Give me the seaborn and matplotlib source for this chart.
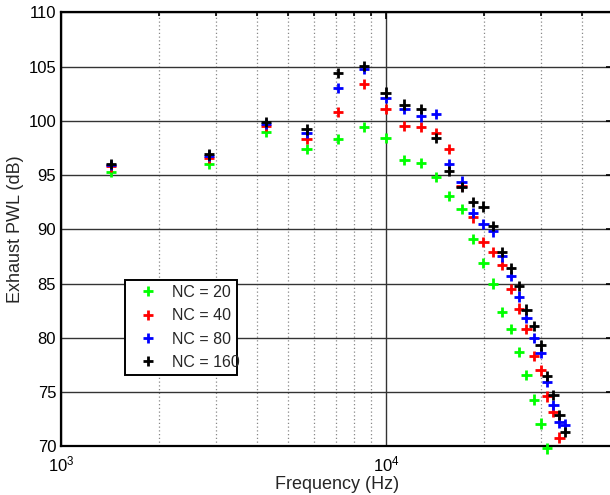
import numpy as np
import pandas as pd
import matplotlib
matplotlib.use("Agg")
import matplotlib.pyplot as plt
from matplotlib.patches import Rectangle
from matplotlib.ticker import LogLocator, NullFormatter, LogFormatterMathtext
import seaborn as sns

# Harmonic frequencies (Hz)
freq = [1425, 2850, 4275, 5700, 7125, 8550, 9975, 11400, 12825, 14250,
        15675, 17100, 18525, 19950, 21375, 22800, 24225, 25650, 27075,
        28500, 29925, 31350, 32775, 34200, 35625]

# Exhaust sound power level (dB) for each grid resolution
pwl_nc20 = [95.3, 96.0, 99.0, 97.4, 98.3, 99.4, 98.4, 96.4, 96.1, 94.8,
            93.1, 91.9, 89.1, 86.9, 85.0, 82.4, 80.8, 78.7, 76.6, 74.3,
            72.1, 69.8, np.nan, np.nan, np.nan]
pwl_nc40 = [95.8, 96.6, 99.5, 98.3, 100.8, 103.4, 101.1, 99.5, 99.4, 98.9,
            97.4, 94.0, 91.1, 88.8, 87.9, 86.7, 84.5, 82.7, 80.8, 78.3,
            77.0, 74.6, 73.2, 70.8, np.nan]
pwl_nc80 = [95.9, 96.8, 99.7, 98.85, 103.0, 104.8, 102.1, 101.1, 100.4, 100.6,
            96.0, 94.4, 91.5, 90.5, 89.8, 87.5, 85.7, 83.8, 81.8, 80.0,
            78.6, 75.95, 73.8, 72.2, 72.0]
pwl_nc160 = [96.0, 96.9, 99.9, 99.2, 104.4, 105.05, 102.6, 101.5, 101.1, 98.4,
             95.4, 93.9, 92.5, 92.1, 90.3, 87.9, 86.4, 84.8, 82.6, 81.1,
             79.3, 76.5, 74.7, 72.9, 71.3]

series_labels = ["NC = 20", "NC = 40", "NC = 80", "NC = 160"]
series_colors = ["#00ff00", "#ff0000", "#0000ff", "#000000"]
yticks = [70, 75, 80, 85, 90, 95, 100, 105, 110]

frames = []
for lab, vals in zip(series_labels, [pwl_nc20, pwl_nc40, pwl_nc80, pwl_nc160]):
    frames.append(pd.DataFrame({"freq": freq, "pwl": vals, "series": lab}))
df = pd.concat(frames, ignore_index=True).dropna()

sns.set_style("white")
plt.rcParams["font.family"] = ["Liberation Sans", "DejaVu Sans"]
plt.rcParams["mathtext.fontset"] = "custom"
plt.rcParams["mathtext.rm"] = "Liberation Sans"
plt.rcParams["mathtext.it"] = "Liberation Sans:italic"
plt.rcParams["mathtext.bf"] = "Liberation Sans:bold"

W, H = 610, 495
fig = plt.figure(figsize=(W / 100, H / 100), dpi=100)
ax = fig.add_axes([61 / W, 1 - 446.3 / H, (613 - 61) / W, (446.3 - 12.3) / H])

ax.set_xscale("log")
ax.set_xlim(1e3, 5e4)
ax.set_ylim(70, 110)

# grid: solid horizontal majors, dotted vertical minors, solid decade line
ax.set_axisbelow(True)
ax.xaxis.set_major_locator(LogLocator(base=10, numticks=10))
ax.xaxis.set_minor_locator(LogLocator(base=10, subs=np.arange(2, 10), numticks=20))
ax.xaxis.set_major_formatter(LogFormatterMathtext())
ax.xaxis.set_minor_formatter(NullFormatter())
ax.set_yticks(yticks)
ax.grid(True, which="major", axis="y", color="#333333", linestyle="-", linewidth=1.0)
ax.grid(True, which="major", axis="x", color="#333333", linestyle="-", linewidth=1.0)
ax.grid(True, which="minor", axis="x", color="#888888", linestyle=(0, (1, 2)), linewidth=0.9)

sns.scatterplot(data=df, x="freq", y="pwl", hue="series", hue_order=series_labels,
                palette=series_colors, marker="+", s=55, linewidth=2.0,
                ax=ax, legend=True, clip_on=False, zorder=3)

for s in ax.spines.values():
    s.set_color("black")
    s.set_linewidth(1.6)

ax.tick_params(axis="both", which="both", direction="in", top=True, right=True,
               labelsize=12, colors="black", width=1.2)
ax.tick_params(axis="both", which="major", length=5)
ax.tick_params(axis="x", which="minor", length=3)
ax.tick_params(axis="x", which="major", pad=6)

ax.set_xlabel("Frequency (Hz)", fontsize=13, labelpad=1)
ax.set_ylabel("Exhaust PWL (dB)", fontsize=13, labelpad=3)

# legend box
box = Rectangle((125 / W, 1 - 375 / H), 112 / W, 95 / H, transform=fig.transFigure,
                facecolor="white", edgecolor="black", linewidth=1.4, zorder=4,
                clip_on=False)
ax.add_patch(box)

handles, labels = ax.get_legend_handles_labels()
leg = ax.legend(handles, labels, loc="upper left",
                bbox_to_anchor=(140.5 / W, 1 - 285 / H), bbox_transform=fig.transFigure,
                frameon=False, fontsize=11.5, borderaxespad=0, borderpad=0,
                handlelength=1.0, handletextpad=0.97, labelspacing=0.52)
leg.set_zorder(5)

fig.savefig("out.png", dpi=100)
